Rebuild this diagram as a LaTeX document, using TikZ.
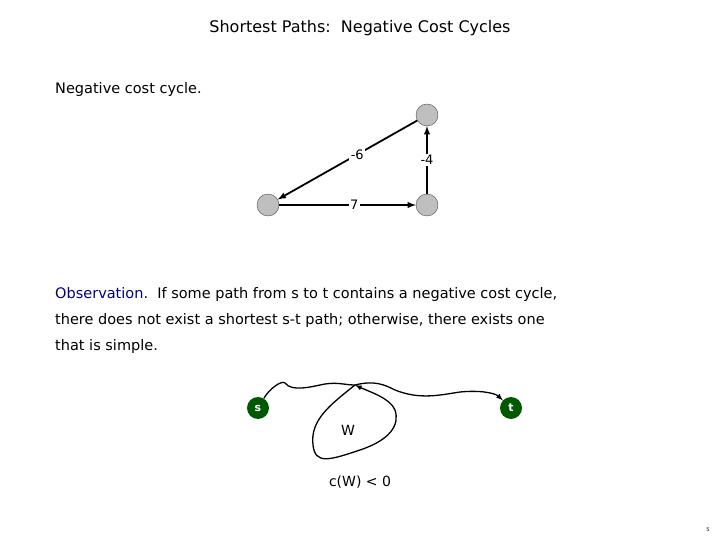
\documentclass[tikz,border=0pt]{standalone}
\usepackage{fontspec}
\setmainfont{DejaVu Sans}
\begin{document}
\begin{tikzpicture}[x=1pt,y=-1pt,
 gnode/.style={circle,draw=black!70,fill=black!25,minimum size=22pt,inner sep=0pt},
 gr/.style={circle,fill=green!35!black,minimum size=22pt,inner sep=0pt,text=white,font=\fontsize{11}{12}\selectfont\bfseries},
 lab/.style={fill=white,inner sep=1.5pt,font=\fontsize{13}{16}\selectfont},
 edge/.style={line width=1.8pt,-latex},
 txt/.style={font=\fontsize{14.5}{26}\selectfont,anchor=west,inner sep=0pt}]
\useasboundingbox (0,0) rectangle (720,540);
\node (title) at (360,28) {\fontsize{16}{20}\selectfont Shortest Paths:\ \ Negative Cost Cycles};
\node[txt] (neg) at (55,90) {Negative cost cycle.};
\node[gnode] (a) at (427,115) {};
\node[gnode] (b) at (268,205) {};
\node[gnode] (c) at (427,205) {};
\draw[edge] (a) -- node[lab,pos=0.43] {-6} (b);
\draw[edge] (b) -- node[lab,pos=0.55] {7} (c);
\draw[edge] (c) -- node[lab,pos=0.5] {-4} (a);
\node[txt,align=left,anchor=north west] (obs) at (55,287) {\textcolor{blue!50!black}{Observation.}\ \ If some path from s to t contains a negative cost cycle,\\there does not exist a shortest s-t path; otherwise, there exists one\\that is simple.};
\node[gr] (s) at (258,408) {s};
\node[gr] (t) at (511,408) {t};
\coordinate (j) at (355,385);
\draw[line width=1.3pt] (s) .. controls (270,388) and (282,380) .. (285,383) .. controls (292,392) and (310,387) .. (325,384) .. controls (338,382) and (345,385) .. (j);
\draw[line width=1.3pt,-latex] (j) .. controls (375,380) and (385,385) .. (395,390) .. controls (420,400) and (440,395) .. (460,392) .. controls (480,390) and (495,393) .. (t);
\draw[line width=1.3pt,-latex] (j) .. controls (330,405) and (310,420) .. (313,445) .. controls (315,465) and (330,460) .. (360,450) .. controls (390,440) and (400,425) .. (395,410) .. controls (390,398) and (370,392) .. (j);
\node (w) at (348,430) {\fontsize{14}{16}\selectfont W};
\node (cw) at (360,482) {\fontsize{14}{16}\selectfont c(W) < 0};
\node (pg) at (708,530) {\fontsize{5}{6}\selectfont 5};
\end{tikzpicture}
\end{document}
